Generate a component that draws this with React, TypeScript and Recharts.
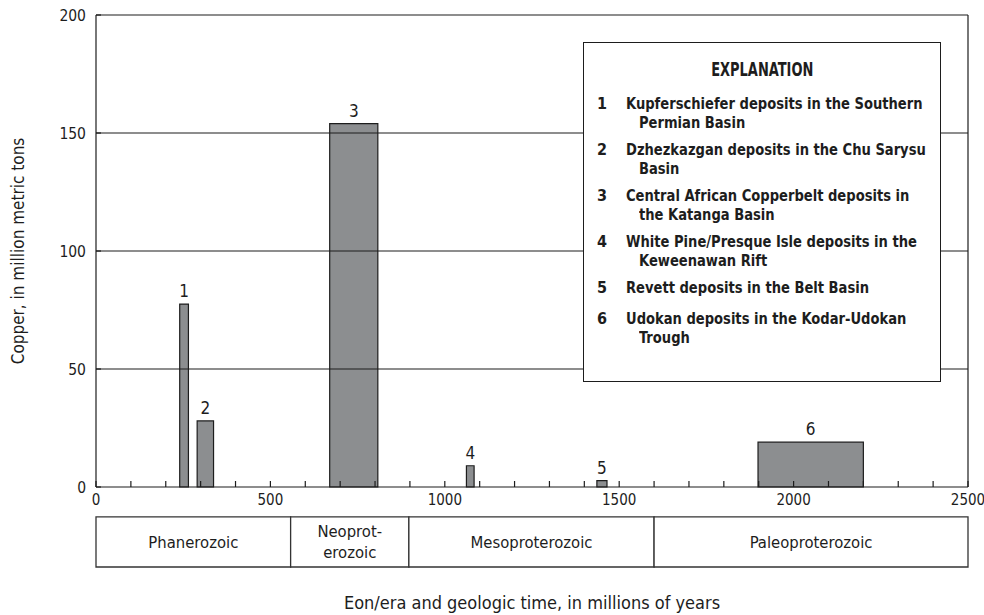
import React from "react"
import {
  ComposedChart,
  XAxis,
  YAxis,
  ReferenceArea,
  ReferenceLine,
  Legend,
} from "recharts"

const FONT = "'Liberation Sans Narrow', 'Arial Narrow', 'DejaVu Sans Condensed', sans-serif"
const INK = "#1d1d1d"

// deposits (time in Ma, copper in million metric tons)
const depositIds = [1, 2, 3, 4, 5, 6]
const ageStartMa = [240, 290, 670, 1062, 1436, 1898]
const ageEndMa = [265, 337, 808, 1084, 1465, 2200]
const copperMt = [77.5, 28, 154, 9, 2.7, 19]
const depositNames = [
  ["Kupferschiefer deposits in the Southern", "Permian Basin"],
  ["Dzhezkazgan deposits in the Chu Sarysu", "Basin"],
  ["Central African Copperbelt deposits in", "the Katanga Basin"],
  ["White Pine/Presque Isle deposits in the", "Keweenawan Rift"],
  ["Revett deposits in the Belt Basin"],
  ["Udokan deposits in the Kodar-Udokan", "Trough"],
]

// eon/era strip under the axis
const eraNames = [["Phanerozoic"], ["Neoprot-", "erozoic"], ["Mesoproterozoic"], ["Paleoproterozoic"]]
const eraStartMa = [0, 558, 897, 1600]
const eraEndMa = [558, 897, 1600, 2500]

const timeTicks = [
  0, 100, 200, 300, 400, 500, 600, 700, 800, 900, 1000, 1100, 1200, 1300,
  1400, 1500, 1600, 1700, 1800, 1900, 2000, 2100, 2200, 2300, 2400, 2500,
]
const timeLabels = [0, 500, 1000, 1500, 2000, 2500]
const copperTicks = [0, 50, 100, 150, 200]
const gridValues = [50, 100, 150]
const TIME_MAX = 2500
const COPPER_MAX = 200

// strip sits below the plot, expressed in copper units of the y scale
const ERA_TOP = -12.7
const ERA_BOTTOM = -33.9

const deposits = depositIds.map((id, i) => ({
  id,
  start: ageStartMa[i],
  end: ageEndMa[i],
  copper: copperMt[i],
}))

function EraText({ viewBox, lines }: { viewBox?: any; lines: string[] }) {
  if (!viewBox) return null
  const cx = viewBox.x + viewBox.width / 2
  const cy = viewBox.y + viewBox.height / 2
  const lh = 21
  const y0 = cy - ((lines.length - 1) * lh) / 2
  return (
    <text textAnchor="middle" fontFamily={FONT} fontSize={16.5} fill={INK}>
      {lines.map((l, i) => (
        <tspan key={i} x={cx} y={y0 + i * lh} dy="0.36em">
          {l}
        </tspan>
      ))}
    </text>
  )
}

function Explanation() {
  return (
    <div
      style={{
        boxSizing: "border-box",
        width: 358,
        height: 340,
        border: `1.5px solid ${INK}`,
        background: "#fff",
        fontFamily: FONT,
        fontWeight: 700,
        color: INK,
        paddingTop: 15,
      }}
    >
      <div style={{ textAlign: "center", fontSize: 19, lineHeight: "22px" }}>
        <span style={{ display: "inline-block", transform: "scaleX(0.76)" }}>
          EXPLANATION
        </span>
      </div>
      <div style={{ marginTop: 14 }}>
        {depositNames.map((lines, i) => (
          <div
            key={i}
            style={{
              position: "relative",
              marginTop: i === 0 ? 0 : i === 5 ? 12 : 8,
              fontSize: 16,
              lineHeight: "19px",
              paddingLeft: 42,
              whiteSpace: "nowrap",
            }}
          >
            <span style={{ position: "absolute", left: 13 }}>{depositIds[i]}</span>
            {lines.map((l, j) => (
              <div
                key={j}
                style={{
                  marginLeft: j === 0 ? 0 : 13,
                  transform: "scaleX(0.91)",
                  transformOrigin: "left center",
                }}
              >
                {l}
              </div>
            ))}
          </div>
        ))}
      </div>
    </div>
  )
}

export default function App() {
  return (
    <div style={{ position: "absolute", left: 0, top: 0, background: "#fff" }}>
      <ComposedChart
        width={984}
        height={615}
        data={deposits}
        margin={{ top: 15, right: 16, bottom: 98, left: 0 }}
      >
        {deposits.map((d) => (
          <ReferenceArea
            key={`dep-${d.id}`}
            x1={d.start}
            x2={d.end}
            y1={0}
            y2={d.copper}
            fill="#8c8e90"
            fillOpacity={1}
            stroke={INK}
            strokeWidth={1.2}
            ifOverflow="visible"
            label={{
              value: d.id,
              position: "top",
              offset: 7,
              fill: INK,
              fontSize: 17,
              fontFamily: FONT,
            }}
          />
        ))}

        {eraNames.map((lines, i) => (
          <ReferenceArea
            key={`era-${i}`}
            x1={eraStartMa[i]}
            x2={eraEndMa[i]}
            y1={ERA_BOTTOM}
            y2={ERA_TOP}
            fill="#fff"
            fillOpacity={1}
            stroke="#333"
            strokeWidth={1.3}
            ifOverflow="visible"
            label={(p: any) => <EraText viewBox={p.viewBox} lines={lines} />}
          />
        ))}

        {gridValues.map((v) => (
          <ReferenceLine key={`g-${v}`} y={v} stroke={INK} strokeWidth={1.2} />
        ))}
        {/* top and right frame */}
        <ReferenceLine y={COPPER_MAX} stroke={INK} strokeWidth={1.2} />
        <ReferenceLine x={TIME_MAX} stroke={INK} strokeWidth={1.2} />

        <XAxis
          dataKey="start"
          type="number"
          domain={[0, TIME_MAX]}
          ticks={timeTicks}
          interval={0}
          tickFormatter={(v: number) => (timeLabels.includes(v) ? String(v) : "")}
          tickSize={-6}
          tickMargin={13}
          height={30}
          axisLine={{ stroke: INK, strokeWidth: 1.2 }}
          tickLine={{ stroke: INK, strokeWidth: 1.2 }}
          tick={{ fill: INK, fontSize: 15, fontFamily: FONT }}
          label={{
            value: "Eon/era and geologic time, in millions of years",
            position: "bottom",
            offset: 79,
            fill: INK,
            fontSize: 18,
            fontFamily: FONT,
          }}
        />
        <YAxis
          dataKey="copper"
          type="number"
          domain={[0, COPPER_MAX]}
          ticks={copperTicks}
          interval={0}
          width={96}
          tickSize={-5}
          tickMargin={15}
          axisLine={{ stroke: INK, strokeWidth: 1.2 }}
          tickLine={{ stroke: INK, strokeWidth: 1.2 }}
          tick={{ fill: INK, fontSize: 15.5, fontFamily: FONT }}
          label={{
            value: "Copper, in million metric tons",
            angle: -90,
            position: "insideLeft",
            offset: 18,
            fill: INK,
            fontSize: 17,
            fontFamily: FONT,
            style: { textAnchor: "middle" },
          }}
        />

        <Legend
          layout="vertical"
          align="center"
          verticalAlign="middle"
          wrapperStyle={{ left: 583, top: 42, width: 358, height: 340 }}
          content={() => <Explanation />}
        />
      </ComposedChart>
    </div>
  )
}
